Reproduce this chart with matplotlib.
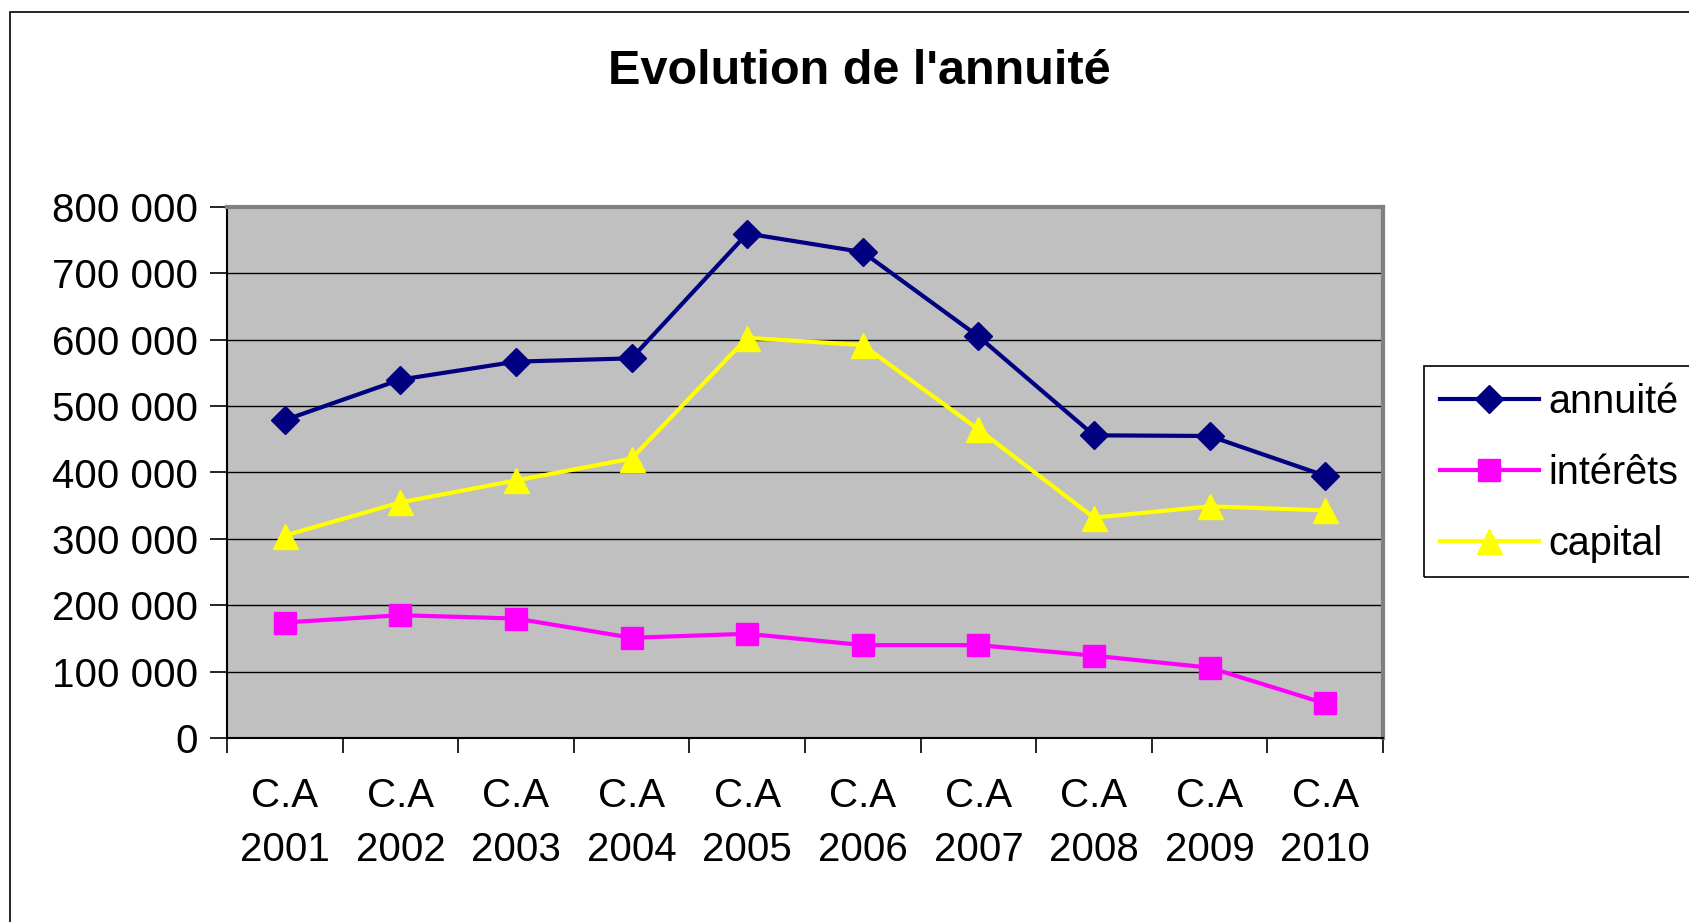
import matplotlib
matplotlib.use("Agg")
import matplotlib.pyplot as plt
import matplotlib.ticker as mticker
from matplotlib.patches import Rectangle

# valeurs
annees = ["C.A\n2001", "C.A\n2002", "C.A\n2003", "C.A\n2004", "C.A\n2005",
          "C.A\n2006", "C.A\n2007", "C.A\n2008", "C.A\n2009", "C.A\n2010"]
annuite = [479000, 540000, 567000, 572000, 760000, 732000, 605000, 456000, 455000, 395000]
interets = [174000, 185000, 180000, 151000, 157000, 140000, 140000, 124000, 106000, 52000]
capital = [305000, 355000, 388000, 421000, 603000, 592000, 465000, 332000, 349000, 343000]

plt.rcParams['font.family'] = ['Liberation Sans', 'DejaVu Sans']

W, H = 1690, 922
fig = plt.figure(figsize=(W / 100, H / 100), dpi=100)
ax = fig.add_axes([227 / W, 1 - 738 / H, (1383 - 227) / W, (738 - 207) / H])
ax.set_facecolor("#c0c0c0")

x = list(range(len(annees)))
ax.plot(x, annuite, color="#000080", lw=3, marker="D", ms=14, mec="#000080", label="annuité", zorder=5)
ax.plot(x, interets, color="#ff00ff", lw=3, marker="s", ms=16, mec="#ff00ff", label="intérêts", zorder=5)
ax.plot(x, capital, color="#ffff00", lw=3, marker="^", ms=18, mec="#ffff00", label="capital", zorder=5)

ax.set_xlim(-0.5, len(annees) - 0.5)
ax.set_ylim(0, 800000)
ax.yaxis.set_major_locator(mticker.MultipleLocator(100000))
ax.yaxis.set_major_formatter(mticker.FuncFormatter(lambda v, p: "{:,}".format(int(v)).replace(",", " ")))
ax.grid(axis="y", color="black", lw=1)
ax.set_axisbelow(True)

ax.set_xticks(x)
ax.set_xticklabels(annees, linespacing=1.55)
ax.set_xticks([i - 0.5 for i in range(len(annees) + 1)], minor=True)
ax.tick_params(axis="x", which="major", length=0, pad=28, labelsize=29)
ax.tick_params(axis="x", which="minor", length=11, width=1.2, direction="out")
ax.tick_params(axis="y", length=12, width=1.2, direction="out", pad=9, labelsize=29)

for s in ["top", "right"]:
    ax.spines[s].set_color("#808080")
    ax.spines[s].set_linewidth(3)
for s in ["left", "bottom"]:
    ax.spines[s].set_color("black")
    ax.spines[s].set_linewidth(1.5)

fig.text(859 / W, 1 - 72 / H, "Evolution de l'annuité", ha="center", va="center",
         fontsize=35, fontweight="bold")

# cadre du graphique
fig.patches.append(Rectangle((10 / W, -0.2), 2, 1.2 - 12 / H, transform=fig.transFigure,
                             fill=False, ec="black", lw=1.2))
# cadre de la légende
fig.patches.append(Rectangle((1424 / W, 1 - 577 / H), 0.3, (577 - 366) / H, transform=fig.transFigure,
                             fill=False, ec="black", lw=1.2))
fig.legend(loc="center left", bbox_to_anchor=(1440 / W, 1 - 473 / H), frameon=False,
           fontsize=28.5, handlelength=2.5, handletextpad=0.25, labelspacing=0.83,
           borderpad=0, borderaxespad=0)

fig.savefig("out.png", dpi=100)
